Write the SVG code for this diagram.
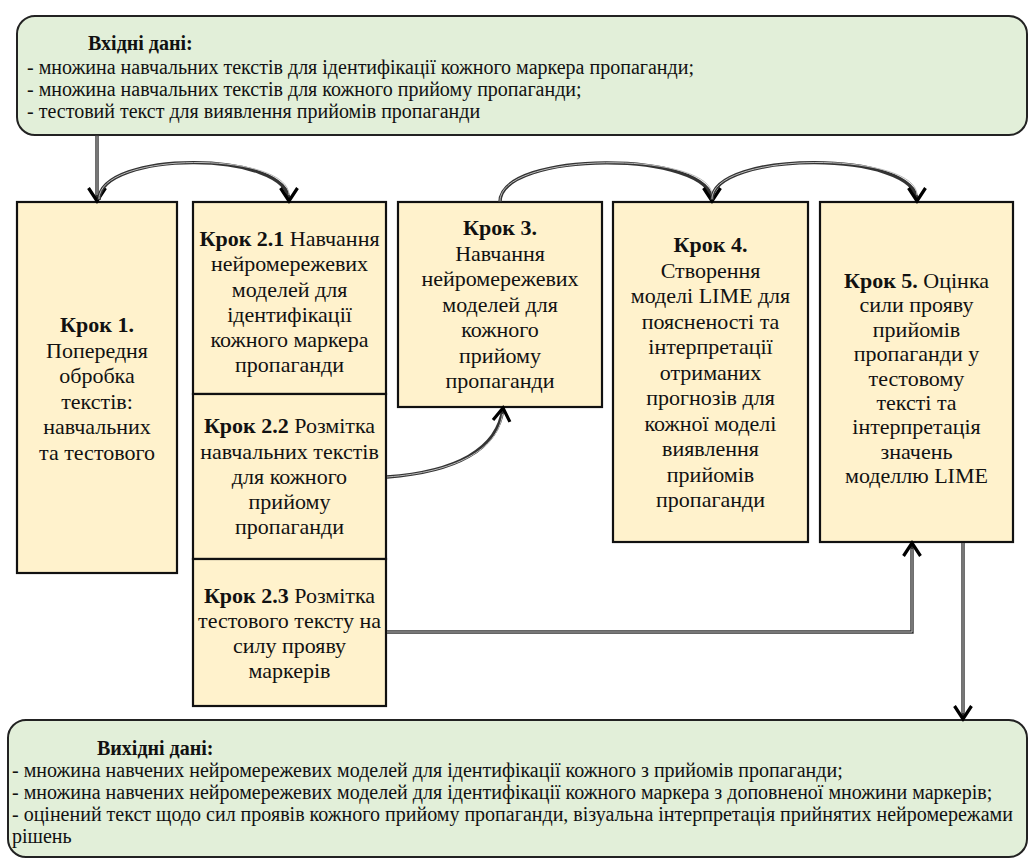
<svg xmlns="http://www.w3.org/2000/svg" width="1030" height="862" viewBox="0 0 1030 862">
<style>
.io{fill:#e2efd9;stroke:#222;stroke-width:2}
.nd{fill:#fff2cc;stroke:#111;stroke-width:2.2}
text{font-family:'Liberation Serif','Times New Roman',serif;fill:#111}
.t{font-size:22px;text-anchor:middle}
.it{font-size:20px}
.b{font-weight:bold}
.cd{fill:none;stroke:#333;stroke-width:3.4}
.cl{fill:none;stroke:#bbb;stroke-width:1}
</style>
<defs>
<marker id="arr" markerUnits="userSpaceOnUse" markerWidth="34" markerHeight="34" viewBox="-17 -17 34 34" refX="0" refY="0" orient="auto">
<path d="M-13,-8.5 L0,0 L-13,8.5" fill="none" stroke="#000" stroke-width="3.2" stroke-linejoin="miter"/>
</marker>
</defs>
<rect width="1030" height="862" fill="#fff"/>
<g id="input">
<rect class="io" x="17" y="16" width="1010" height="119" rx="18"/>
<text class="it b" x="88" y="50">Вхідні дані:</text>
<text class="it" x="27" y="74">-  множина навчальних текстів для ідентифікації кожного маркера пропаганди;</text>
<text class="it" x="27" y="96">-  множина навчальних текстів для кожного прийому пропаганди;</text>
<text class="it" x="27" y="118">-  тестовий текст для виявлення прийомів пропаганди</text>
</g>
<g id="output">
<rect class="io" x="8" y="720" width="1019" height="137" rx="18"/>
<text class="it b" x="97" y="755">Вихідні дані:</text>
<text class="it" x="12" y="777">- множина навчених нейромережевих моделей для ідентифікації кожного з прийомів пропаганди;</text>
<text class="it" x="12" y="799">- множина навчених нейромережевих моделей для ідентифікації кожного маркера з доповненої множини маркерів;</text>
<text class="it" x="12" y="821">- оцінений текст щодо сил проявів кожного прийому пропаганди, візуальна інтерпретація прийнятих нейромережами</text>
<text class="it" x="12" y="843">рішень</text>
</g>
<g id="step1">
<rect class="nd" x="17" y="202" width="160" height="371"/>
<text class="t"><tspan class="b" x="97" y="332">Крок 1.</tspan><tspan x="97" y="357.5">Попередня</tspan><tspan x="97" y="383">обробка</tspan><tspan x="97" y="408.5">текстів:</tspan><tspan x="97" y="434">навчальних</tspan><tspan x="97" y="459.5">та тестового</tspan></text>
</g>
<g id="step2_1">
<rect class="nd" x="193" y="202" width="193" height="192"/>
<text class="t"><tspan x="289.5" y="246"><tspan class="b">Крок 2.1</tspan> Навчання</tspan><tspan x="289.5" y="271.3">нейромережевих</tspan><tspan x="289.5" y="296.6">моделей для</tspan><tspan x="289.5" y="322">ідентифікації</tspan><tspan x="289.5" y="347">кожного маркера</tspan><tspan x="289.5" y="372">пропаганди</tspan></text>
</g>
<g id="step2_2">
<rect class="nd" x="193" y="394" width="193" height="165"/>
<text class="t"><tspan x="289.5" y="433"><tspan class="b">Крок 2.2</tspan> Розмітка</tspan><tspan x="289.5" y="458.5">навчальних текстів</tspan><tspan x="289.5" y="484">для кожного</tspan><tspan x="289.5" y="509">прийому</tspan><tspan x="289.5" y="534">пропаганди</tspan></text>
</g>
<g id="step2_3">
<rect class="nd" x="193" y="559" width="193" height="147"/>
<text class="t"><tspan x="289.5" y="603"><tspan class="b">Крок 2.3</tspan> Розмітка</tspan><tspan x="289.5" y="628">тестового тексту на</tspan><tspan x="289.5" y="653">силу прояву</tspan><tspan x="289.5" y="678">маркерів</tspan></text>
</g>
<g id="step3">
<rect class="nd" x="398" y="202" width="204" height="205"/>
<text class="t"><tspan class="b" x="500" y="235">Крок 3.</tspan><tspan x="500" y="260.5">Навчання</tspan><tspan x="500" y="286">нейромережевих</tspan><tspan x="500" y="311.5">моделей для</tspan><tspan x="500" y="337">кожного</tspan><tspan x="500" y="362.5">прийому</tspan><tspan x="500" y="388">пропаганди</tspan></text>
</g>
<g id="step4">
<rect class="nd" x="613" y="202" width="195" height="340"/>
<text class="t"><tspan class="b" x="710.5" y="252">Крок 4.</tspan><tspan x="710.5" y="277.5">Створення</tspan><tspan x="710.5" y="303">моделі LIME для</tspan><tspan x="710.5" y="328.5">поясненості та</tspan><tspan x="710.5" y="354">інтерпретації</tspan><tspan x="710.5" y="379.5">отриманих</tspan><tspan x="710.5" y="405">прогнозів для</tspan><tspan x="710.5" y="430.5">кожної моделі</tspan><tspan x="710.5" y="456">виявлення</tspan><tspan x="710.5" y="481.5">прийомів</tspan><tspan x="710.5" y="507">пропаганди</tspan></text>
</g>
<g id="step5">
<rect class="nd" x="820" y="202" width="193" height="340"/>
<text class="t"><tspan x="916.5" y="288"><tspan class="b">Крок 5.</tspan> Оцінка</tspan><tspan x="916.5" y="312.4">сили прояву</tspan><tspan x="916.5" y="336.8">прийомів</tspan><tspan x="916.5" y="361.2">пропаганди у</tspan><tspan x="916.5" y="385.6">тестовому</tspan><tspan x="916.5" y="410">тексті та</tspan><tspan x="916.5" y="434.4">інтерпретація</tspan><tspan x="916.5" y="458.8">значень</tspan><tspan x="916.5" y="483.2">моделлю LIME</tspan></text>
</g>
<g id="connectors">
<path class="cd" marker-end="url(#arr)" d="M97,135 L97,201"/>
<path class="cl" d="M97,136 L97,195"/>
<path class="cd" marker-end="url(#arr)" d="M99,200 C99,150 289,150 289,201"/>
<path class="cl" d="M99,199 C99,151 289,151 289,195"/>
<path class="cd" marker-end="url(#arr)" d="M500,202 C500,150 712,150 712,201"/>
<path class="cl" d="M500,201 C500,151 712,151 712,195"/>
<path class="cd" marker-end="url(#arr)" d="M712,200 C712,150 917,150 917,201"/>
<path class="cl" d="M712,199 C712,151 917,151 917,195"/>
<path class="cd" marker-end="url(#arr)" d="M387,477 C455,472 498,450 503,408"/>
<path class="cl" d="M387,477 C455,472 498,450 502.5,414"/>
<path class="cd" marker-end="url(#arr)" d="M387,632 L912,632 L912,543"/>
<path class="cl" d="M387,632 L912,632 L912,549"/>
<path class="cd" marker-end="url(#arr)" d="M963,543 L963,719"/>
<path class="cl" d="M963,543 L963,713"/>
</g>
</svg>
